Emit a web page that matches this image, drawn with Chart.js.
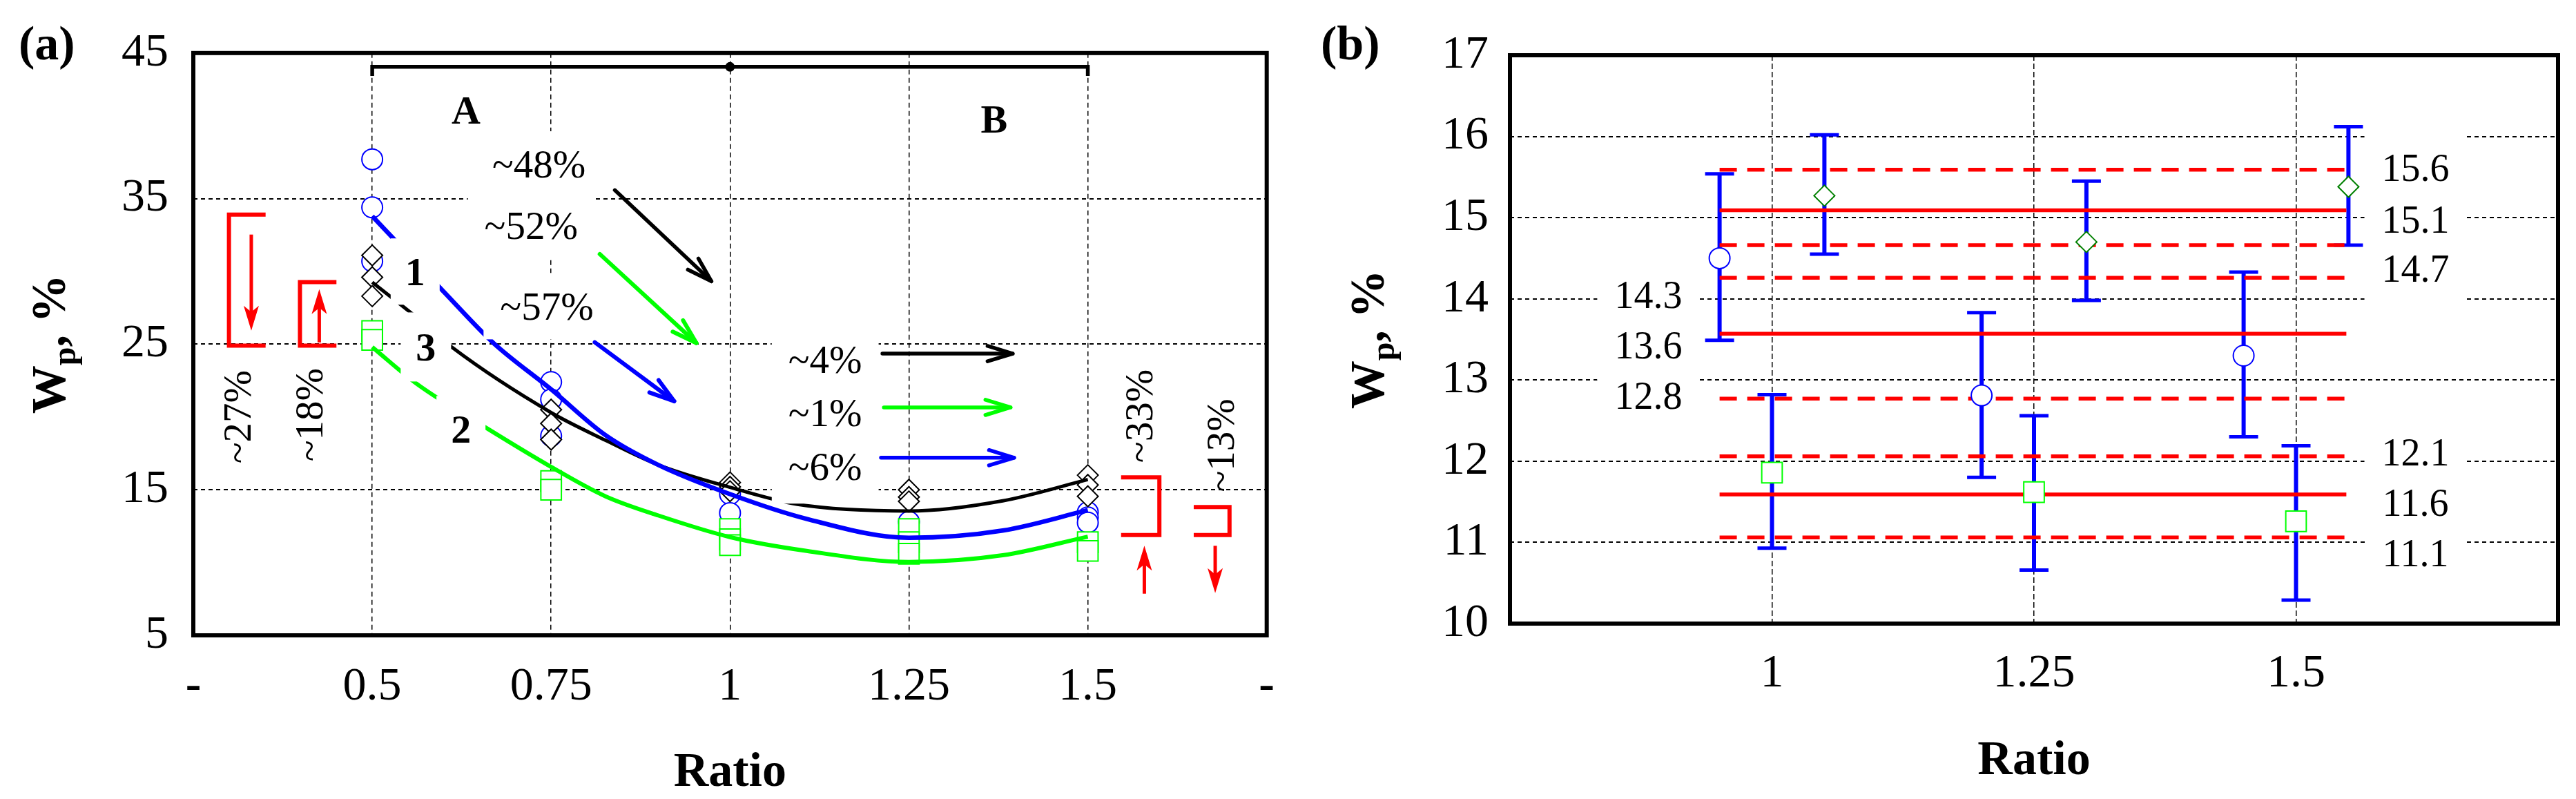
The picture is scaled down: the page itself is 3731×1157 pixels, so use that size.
<!DOCTYPE html>
<html>
<head>
<meta charset="utf-8">
<script src="https://cdn.jsdelivr.net/npm/chart.js@4.4.0/dist/chart.umd.min.js"></script>
<style>
  html, body { margin: 0; padding: 0; background: #fff; }
  body { width: 3731px; height: 1157px; position: relative; overflow: hidden; }
  canvas { position: absolute; top: 0; }
  #chartA { left: 0; }
  #chartB { left: 1880px; }
</style>
</head>
<body>
<canvas id="chartA" width="1880" height="1157"></canvas>
<canvas id="chartB" width="1851" height="1157"></canvas>
<script>
const SERIF = "'Liberation Serif', 'Times New Roman', serif";

// ---------- panel (a) data ----------
const ratioA = [0.5, 0.75, 1, 1.25, 1.5];
const wpCirclesA = [[37.7, 34.4, 30.7], [22.4, 21.2, 18.7], [14.7, 13.4], [12.8], [13.45, 13.1, 12.75]];
const wpDiamondsA = [[31.1, 29.6, 28.3], [20.5, 19.55, 18.45], [15.5, 15.2, 14.9], [15.0, 14.5, 14.2], [16.0, 15.33, 14.55]];
const wpSquaresA = [[25.9, 25.3], [15.6, 15.0], [12.3, 11.6, 11.2], [12.3, 11.4, 10.6], [11.4, 10.8]];

// fitted curves 1 (blue), 2 (green), 3 (black)
const fit1X = [0.5, 0.6, 0.669, 0.75, 0.826, 0.9, 1.0, 1.107, 1.25, 1.381, 1.5];
const fit1Y = [33.8, 28.6, 25.1, 21.9, 18.75, 16.7, 14.7, 13.0, 11.7, 12.2, 13.6];
const fit2X = [0.5, 0.563, 0.661, 0.75, 0.826, 0.9, 1.0, 1.107, 1.25, 1.381, 1.5];
const fit2Y = [24.8, 22.25, 19.2, 16.57, 14.55, 13.23, 11.75, 10.8, 10.04, 10.5, 11.78];
const fit3X = [0.5, 0.558, 0.611, 0.75, 0.826, 0.9, 1.0, 1.094, 1.25, 1.381, 1.5];
const fit3Y = [29.25, 27.0, 24.8, 20.3, 18.4, 16.7, 15.17, 14.0, 13.54, 14.24, 15.7];

const xTicksA = [0.25, 0.5, 0.75, 1, 1.25, 1.5, 1.75];
const xLabelsA = ['-', '0.5', '0.75', '1', '1.25', '1.5', '-'];
const yTicksA = [5, 15, 25, 35, 45];

// ---------- panel (b) data ----------
const ratioCircB = [0.95, 1.2, 1.45];
const wpCircB = [14.5, 12.81, 13.3];
const loCircB = [13.49, 11.8, 12.3];
const hiCircB = [15.54, 13.83, 14.33];

const ratioDiamB = [1.05, 1.3, 1.55];
const wpDiamB = [15.27, 14.7, 15.38];
const loDiamB = [14.55, 13.98, 14.66];
const hiDiamB = [16.02, 15.45, 16.12];

const ratioSqB = [1, 1.25, 1.5];
const wpSqB = [11.86, 11.62, 11.26];
const loSqB = [10.93, 10.66, 10.29];
const hiSqB = [12.82, 12.56, 12.19];

const meanB = [15.09, 13.57, 11.59];
const upperB = [15.59, 14.26, 12.06];
const lowerB = [14.66, 12.77, 11.06];
const bandRangeB = [0.95, 1.548];

const xTicksB = [1, 1.25, 1.5];
const yTicksB = [10, 11, 12, 13, 14, 15, 16, 17];

// ---------- annotations ----------
const textsA = [
  { t: '1', x: 0.560, y: 29.99, size: 58, bold: true, padX: 21, halfH: 48 },
  { t: '3', x: 0.575, y: 24.81, size: 58, bold: true, padX: 22, halfH: 50 },
  { t: '2', x: 0.624, y: 19.17, size: 58, bold: true, padX: 21, halfH: 48 },
  { t: 'A', x: 0.631, y: 41.08, size: 58, bold: true },
  { t: 'B', x: 1.369, y: 40.48, size: 58, bold: true },
  { t: '~48%', x: 0.733, y: 37.35, size: 57, padX: 24, halfH: 48 },
  { t: '~52%', x: 0.722, y: 33.16, size: 57, padX: 24, halfH: 48 },
  { t: '~57%', x: 0.744, y: 27.61, size: 57, padX: 24, halfH: 48 },
  { t: '~4%', x: 1.133, y: 23.93, size: 57, padX: 24, halfH: 48 },
  { t: '~1%', x: 1.133, y: 20.29, size: 57, padX: 24, halfH: 48 },
  { t: '~6%', x: 1.133, y: 16.61, size: 57, padX: 24, halfH: 54 },
  { t: '~27%', x: 0.311, y: 20.01, size: 57, rot: true },
  { t: '~18%', x: 0.412, y: 20.15, size: 57, rot: true },
  { t: '~33%', x: 1.571, y: 20.06, size: 57, rot: true },
  { t: '~13%', x: 1.685, y: 18.05, size: 57, rot: true }
];

const arrowsA = [
  { from: [0.839, 35.58], to: [0.974, 29.32], color: '#000000', w: 5.5 },
  { from: [0.818, 31.19], to: [0.953, 25.08], color: '#00ff00', w: 6 },
  { from: [0.811, 25.13], to: [0.922, 21.08], color: '#0000ff', w: 6 },
  { from: [1.213, 24.35], to: [1.395, 24.35], color: '#000000', w: 5.5 },
  { from: [1.215, 20.66], to: [1.392, 20.66], color: '#00ff00', w: 5.5 },
  { from: [1.211, 17.2], to: [1.397, 17.2], color: '#0000ff', w: 5.5 }
];

const redArrowsA = [
  { x: 0.331, from: 32.53, to: 25.93 },
  { x: 0.426, from: 25.12, to: 28.78 },
  { x: 1.579, from: 7.86, to: 11.15 },
  { x: 1.678, from: 11.15, to: 7.9 }
];

const bracketsA = [
  [[0.351, 33.9], [0.2998, 33.9], [0.2998, 24.9], [0.351, 24.9]],
  [[0.450, 29.26], [0.399, 29.26], [0.399, 24.9], [0.450, 24.9]],
  [[1.5465, 15.85], [1.600, 15.85], [1.600, 11.89], [1.5465, 11.89]],
  [[1.648, 13.81], [1.698, 13.81], [1.698, 11.89], [1.648, 11.89]]
];

const spanA = [[0.5, 43.42], [0.5, 44.05], [1.5, 44.05], [1.5, 43.42]];
const spanDotA = [1.0, 44.05];

const textsB = [
  { t: '14.3', x: 0.882, y: 14.05 },
  { t: '13.6', x: 0.882, y: 13.43 },
  { t: '12.8', x: 0.882, y: 12.81 },
  { t: '15.6', x: 1.614, y: 15.61 },
  { t: '15.1', x: 1.614, y: 14.98 },
  { t: '14.7', x: 1.614, y: 14.37 },
  { t: '12.1', x: 1.614, y: 12.11 },
  { t: '11.6', x: 1.614, y: 11.49 },
  { t: '11.1', x: 1.614, y: 10.87 }
];

// ---------- helpers ----------
const groupPoints = (xs, groups) => xs.flatMap((x, i) => groups[i].map(y => ({ x, y })));
const xyPoints = (xs, ys) => xs.map((x, i) => ({ x, y: ys[i] }));
const barPoints = (xs, lo, hi) => xs.flatMap((x, i) => [{ x, y: lo[i] }, { x, y: hi[i] }, { x, y: null }]);
const hLinePoints = (range, ys) => ys.flatMap(y => [{ x: range[0], y }, { x: range[1], y }, { x: range[1], y: null }]);

function markerSet(data, style, radius, color, order) {
  return {
    data, showLine: false, order,
    pointStyle: style, pointRadius: radius, pointHoverRadius: radius,
    pointBorderColor: color, pointBackgroundColor: '#ffffff', pointBorderWidth: 2
  };
}

function curveSet(xs, ys, color, width) {
  return {
    data: xyPoints(xs, ys), order: 0,
    borderColor: color, borderWidth: width, pointRadius: 0,
    cubicInterpolationMode: 'monotone', fill: false
  };
}

const hidden = 'rgba(0,0,0,0)';

function makeScales(c) {
  return {
    x: {
      type: 'linear', min: c.xMin, max: c.xMax,
      afterBuildTicks: s => { s.ticks = c.xTicks.map(v => ({ value: v })); },
      afterFit: s => { s.height = c.xAxisH; },
      border: { display: false, dash: c.xDash },
      grid: {
        drawTicks: false, lineWidth: 1.5,
        color: ctx => (ctx.tick && (ctx.tick.value <= c.xMin || ctx.tick.value >= c.xMax)) ? hidden : '#000'
      },
      ticks: {
        padding: c.xPad, color: '#000', autoSkip: false, maxRotation: 0,
        font: ctx => ({ family: SERIF, size: 68, weight: ctx.tick && ctx.tick.label === '-' ? 'bold' : 'normal' }),
        callback: v => c.xLabels[c.xTicks.indexOf(v)]
      }
    },
    y: {
      type: 'linear', min: c.yMin, max: c.yMax,
      afterBuildTicks: s => { s.ticks = c.yTicks.map(v => ({ value: v })); },
      afterFit: s => { s.width = c.yAxisW; },
      border: { display: false, dash: c.yDash },
      grid: {
        drawTicks: false, lineWidth: 2,
        color: ctx => (ctx.tick && (ctx.tick.value <= c.yMin || ctx.tick.value >= c.yMax)) ? hidden : '#000'
      },
      ticks: {
        padding: c.yPad, color: '#000',
        font: { family: SERIF, size: 68 },
        callback: v => String(v)
      }
    }
  };
}

function frameAndTitles(c) {
  return {
    id: 'frameAndTitles',
    afterDraw(chart) {
      const ctx = chart.ctx, a = chart.chartArea;
      ctx.save();
      ctx.strokeStyle = '#000';
      ctx.lineWidth = 6;
      ctx.lineJoin = 'miter';
      ctx.strokeRect(a.left, a.top, a.right - a.left, a.bottom - a.top);

      ctx.fillStyle = '#000';
      ctx.textBaseline = 'alphabetic';
      ctx.font = `bold 70px ${SERIF}`;
      ctx.textAlign = 'left';
      ctx.fillText(c.panel, c.panelX, 86);
      ctx.textAlign = 'center';
      ctx.fillText('Ratio', (a.left + a.right) / 2, c.xTitleBase);

      // y title: W with subscript p
      ctx.translate(c.yTitleBase, (a.top + a.bottom) / 2);
      ctx.rotate(-Math.PI / 2);
      const big = `bold 70px ${SERIF}`, small = `bold 48px ${SERIF}`;
      ctx.font = big;
      const wW = ctx.measureText('W').width, wRest = ctx.measureText(', %').width;
      ctx.font = small;
      const wP = ctx.measureText('p').width;
      let u = -(wW + wP + wRest) / 2;
      ctx.textAlign = 'left';
      ctx.font = big; ctx.fillText('W', u, 0); u += wW;
      ctx.font = small; ctx.fillText('p', u, 15); u += wP;
      ctx.font = big; ctx.fillText(', %', u, 0);
      ctx.restore();
    }
  };
}

function textBox(ctx, px, py, l) {
  ctx.font = `${l.bold ? 'bold ' : ''}${l.size}px ${SERIF}`;
  const w = ctx.measureText(l.t).width;
  ctx.fillStyle = '#ffffff';
  ctx.fillRect(px - w / 2 - l.padX, py - l.halfH, w + 2 * l.padX, 2 * l.halfH);
}

function textAt(ctx, px, py, l) {
  ctx.save();
  ctx.font = `${l.bold ? 'bold ' : ''}${l.size}px ${SERIF}`;
  ctx.fillStyle = '#000';
  ctx.textAlign = 'center';
  ctx.textBaseline = 'alphabetic';
  ctx.translate(px, py);
  if (l.rot) ctx.rotate(-Math.PI / 2);
  ctx.fillText(l.t, 0, 0.34 * l.size);
  ctx.restore();
}

function arrow(ctx, x0, y0, x1, y1, color, w) {
  const len = 38, spread = 17 * Math.PI / 180;
  const ang = Math.atan2(y1 - y0, x1 - x0);
  ctx.strokeStyle = color;
  ctx.lineWidth = w;
  ctx.lineCap = 'round';
  ctx.lineJoin = 'round';
  ctx.beginPath();
  ctx.moveTo(x0, y0);
  ctx.lineTo(x1, y1);
  ctx.stroke();
  ctx.beginPath();
  ctx.moveTo(x1 - len * Math.cos(ang - spread), y1 - len * Math.sin(ang - spread));
  ctx.lineTo(x1, y1);
  ctx.lineTo(x1 - len * Math.cos(ang + spread), y1 - len * Math.sin(ang + spread));
  ctx.stroke();
}

function redArrow(ctx, x, y0, y1) {
  const dir = Math.sign(y1 - y0), len = 36, hw = 11;
  ctx.strokeStyle = '#ff0000';
  ctx.fillStyle = '#ff0000';
  ctx.lineWidth = 5;
  ctx.lineCap = 'butt';
  ctx.beginPath();
  ctx.moveTo(x, y0);
  ctx.lineTo(x, y1 - dir * len * 0.7);
  ctx.stroke();
  ctx.beginPath();
  ctx.moveTo(x, y1);
  ctx.lineTo(x - hw, y1 - dir * len);
  ctx.lineTo(x, y1 - dir * len * 0.75);
  ctx.lineTo(x + hw, y1 - dir * len);
  ctx.closePath();
  ctx.fill();
}

const annotationsA = {
  id: 'annotationsA',
  afterDatasetsDraw(chart) {
    const ctx = chart.ctx, sx = chart.scales.x, sy = chart.scales.y;
    const P = (x, y) => [sx.getPixelForValue(x), sy.getPixelForValue(y)];
    ctx.save();
    textsA.filter(l => l.padX).forEach(l => { const [px, py] = P(l.x, l.y); textBox(ctx, px, py, l); });
    textsA.forEach(l => { const [px, py] = P(l.x, l.y); textAt(ctx, px, py, l); });

    arrowsA.forEach(a => {
      const [x0, y0] = P(a.from[0], a.from[1]);
      const [x1, y1] = P(a.to[0], a.to[1]);
      arrow(ctx, x0, y0, x1, y1, a.color, a.w);
    });

    ctx.lineCap = 'butt';
    ctx.lineJoin = 'miter';
    ctx.strokeStyle = '#ff0000';
    ctx.lineWidth = 6;
    bracketsA.forEach(b => {
      ctx.beginPath();
      b.forEach((p, i) => { const [px, py] = P(p[0], p[1]); i ? ctx.lineTo(px, py) : ctx.moveTo(px, py); });
      ctx.stroke();
    });
    redArrowsA.forEach(r => {
      redArrow(ctx, sx.getPixelForValue(r.x), sy.getPixelForValue(r.from), sy.getPixelForValue(r.to));
    });

    ctx.strokeStyle = '#000';
    ctx.lineWidth = 5.5;
    ctx.beginPath();
    spanA.forEach((p, i) => { const [px, py] = P(p[0], p[1]); i ? ctx.lineTo(px, py) : ctx.moveTo(px, py); });
    ctx.stroke();
    const [dx, dy] = P(spanDotA[0], spanDotA[1]);
    ctx.fillStyle = '#000';
    ctx.beginPath();
    ctx.arc(dx, dy, 7, 0, Math.PI * 2);
    ctx.fill();
    ctx.restore();
  }
};

const labelsB = {
  id: 'labelsB',
  beforeDatasetsDraw(chart) {
    const ctx = chart.ctx, sx = chart.scales.x, sy = chart.scales.y;
    ctx.save();
    textsB.forEach(l => {
      const s = { t: l.t, size: 56, padX: 25, halfH: 50 };
      textBox(ctx, sx.getPixelForValue(l.x), sy.getPixelForValue(l.y), s);
    });
    textsB.forEach(l => {
      textAt(ctx, sx.getPixelForValue(l.x), sy.getPixelForValue(l.y), { t: l.t, size: 56 });
    });
    ctx.restore();
  }
};

const common = {
  responsive: false, animation: false, devicePixelRatio: 1,
  plugins: { legend: { display: false }, tooltip: { enabled: false } }
};

// ---------- chart (a) ----------
new Chart(document.getElementById('chartA'), {
  type: 'line',
  data: {
    datasets: [
      curveSet(fit1X, fit1Y, '#0000ff', 6.5),
      curveSet(fit3X, fit3Y, '#000000', 5),
      curveSet(fit2X, fit2Y, '#00ff00', 6),
      markerSet(groupPoints(ratioA, wpDiamondsA), 'rectRot', 15, '#000000', 1),
      markerSet(groupPoints(ratioA, wpSquaresA), 'rect', 21, '#00ff00', 2),
      markerSet(groupPoints(ratioA, wpCirclesA), 'circle', 15, '#0000ff', 3)
    ]
  },
  options: Object.assign({}, common, {
    layout: { padding: { left: 0, top: 62, right: 32, bottom: 0 } },
    scales: makeScales({
      xMin: 0.25, xMax: 1.75, xTicks: xTicksA, xLabels: xLabelsA, xAxisH: 237, xPad: 34, xDash: [7, 5],
      yMin: 5, yMax: 45, yTicks: yTicksA, yAxisW: 280, yPad: 36, yDash: [6, 5]
    })
  }),
  plugins: [annotationsA, frameAndTitles({ panel: '(a)', panelX: 27, xTitleBase: 1138, yTitleBase: 94 })]
});

// ---------- chart (b) ----------
new Chart(document.getElementById('chartB'), {
  type: 'line',
  data: {
    datasets: [
      markerSet(xyPoints(ratioCircB, wpCircB), 'circle', 15, '#0000ff', 0),
      markerSet(xyPoints(ratioDiamB, wpDiamB), 'rectRot', 15, '#008000', 0),
      markerSet(xyPoints(ratioSqB, wpSqB), 'rect', 21, '#00ff00', 0),
      {
        data: hLinePoints(bandRangeB, meanB), order: 1,
        borderColor: '#ff0000', borderWidth: 5.5, pointRadius: 0
      },
      {
        data: hLinePoints(bandRangeB, upperB.concat(lowerB)), order: 1,
        borderColor: '#ff0000', borderWidth: 5.5, borderDash: [25, 15], pointRadius: 0
      },
      {
        data: barPoints(ratioCircB.concat(ratioDiamB, ratioSqB), loCircB.concat(loDiamB, loSqB), hiCircB.concat(hiDiamB, hiSqB)),
        order: 2, borderColor: '#0000ff', borderWidth: 6,
        pointStyle: 'line', pointRadius: 21, pointBorderWidth: 5, pointBorderColor: '#0000ff'
      }
    ]
  },
  options: Object.assign({}, common, {
    layout: { padding: { left: 0, top: 80, right: 26, bottom: 0 } },
    scales: makeScales({
      xMin: 0.75, xMax: 1.75, xTicks: xTicksB, xLabels: xTicksB.map(String), xAxisH: 254, xPad: 32, xDash: [8, 4],
      yMin: 10, yMax: 17, yTicks: yTicksB, yAxisW: 307, yPad: 31, yDash: [6, 5]
    })
  }),
  plugins: [labelsB, frameAndTitles({ panel: '(b)', panelX: 33, xTitleBase: 1121, yTitleBase: 124 })]
});
</script>
</body>
</html>
